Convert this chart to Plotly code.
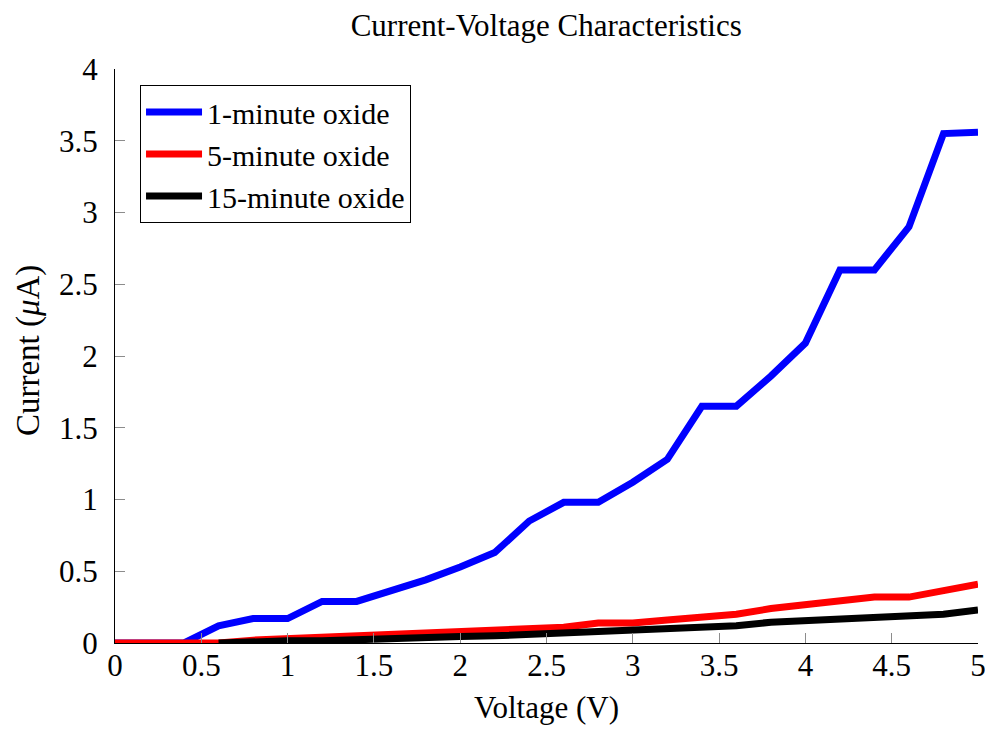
import plotly.graph_objects as go

# Applied voltage (V)
voltage = [0.0, 0.2, 0.4, 0.6, 0.8, 1.0, 1.2, 1.4, 1.6, 1.8, 2.0, 2.2, 2.4,
           2.6, 2.8, 3.0, 3.2, 3.4, 3.6, 3.8, 4.0, 4.2, 4.4, 4.6, 4.8, 5.0]

# Measured current (uA) for each oxidation time
current_1min = [0.0, 0.0, 0.0, 0.12, 0.17, 0.17, 0.29, 0.29, 0.36, 0.44, 0.53, 0.63, 0.85,
                0.98, 0.98, 1.12, 1.28, 1.65, 1.65, 1.86, 2.09, 2.60, 2.60, 2.90, 3.55, 3.56]
current_5min = [0.0, 0.0, 0.0, 0.0, 0.02, 0.03, 0.03, 0.045, 0.05, 0.06, 0.07, 0.08, 0.095,
                0.11, 0.14, 0.14, 0.16, 0.18, 0.20, 0.24, 0.27, 0.29, 0.32, 0.32, 0.37, 0.41]
# 15-minute series starts at 0.6 V
voltage_15 = voltage[3:]
current_15min = [0.0, 0.01, 0.015, 0.015, 0.025, 0.03, 0.035, 0.045, 0.05, 0.06,
                 0.075, 0.075, 0.095, 0.095, 0.105, 0.12, 0.145, 0.155, 0.17, 0.17, 0.185, 0.20, 0.23]

series_names = ["1-minute oxide", "5-minute oxide", "15-minute oxide"]
x_ticks = [0, 0.5, 1, 1.5, 2, 2.5, 3, 3.5, 4, 4.5, 5]
y_ticks = [0, 0.5, 1, 1.5, 2, 2.5, 3, 3.5, 4]

FONT = "Liberation Serif, Times New Roman, serif"
FS = 31

fig = go.Figure()
fig.add_trace(go.Scatter(x=voltage, y=current_1min, mode="lines", name=series_names[0],
                         line=dict(color="#0000FF", width=7)))
fig.add_trace(go.Scatter(x=voltage, y=current_5min, mode="lines", name=series_names[1],
                         line=dict(color="#FF0000", width=7)))
fig.add_trace(go.Scatter(x=voltage_15, y=current_15min, mode="lines", name=series_names[2],
                         line=dict(color="#000000", width=7)))

axis_common = dict(
    showline=True, linecolor="black", linewidth=1, mirror=False,
    showgrid=False, zeroline=False, automargin=False,
    ticks="inside", ticklen=10, tickwidth=1, tickcolor="#8c8c8c",
    tickfont=dict(family=FONT, size=FS, color="black"),
    ticklabeloverflow="allow",
)

fig.update_layout(
    width=985, height=730,
    margin=dict(l=115, r=7, t=69, b=87),
    paper_bgcolor="white", plot_bgcolor="white",
    font=dict(family=FONT, color="black"),
    title=dict(text="Current-Voltage Characteristics", x=0.5545, xanchor="center",
               y=0.965, yanchor="middle", font=dict(family=FONT, size=FS, color="black")),
    xaxis=dict(axis_common, range=[0, 5], tickvals=x_ticks, ticklabelstandoff=-5,
               title=dict(text="Voltage (V)", font=dict(family=FONT, size=FS), standoff=14)),
    yaxis=dict(axis_common, range=[0, 4], tickvals=y_ticks, ticklabelstandoff=10),
    legend=dict(x=0.029, y=0.972, xanchor="left", yanchor="top",
                bgcolor="white", bordercolor="black", borderwidth=1,
                font=dict(family=FONT, size=30, color="black"),
                itemwidth=56, tracegroupgap=0),
    showlegend=True,
)

# Vertical y-axis title placed beside the tick labels
fig.add_annotation(text="Current (<i>μ</i>A)", textangle=-90,
                   xref="paper", yref="paper", x=-0.101, y=0.51,
                   xanchor="center", yanchor="middle", showarrow=False,
                   font=dict(family=FONT, size=33, color="black"))

fig.write_html("out.html")
